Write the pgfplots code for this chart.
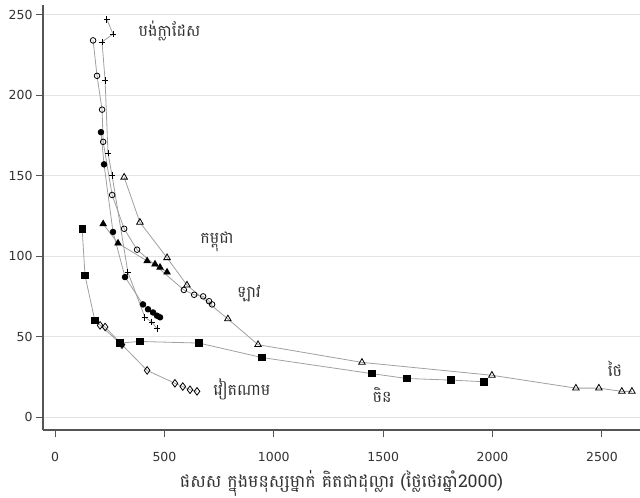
\documentclass[border=0pt]{standalone}
\usepackage{fontspec}
\setmainfont{DejaVu Sans}
\newfontfamily\khmer[Script=Khmer]{Battambang}
\usepackage{pgfplots}
\pgfplotsset{compat=1.18}
\definecolor{linegray}{HTML}{A0A0A0}
\definecolor{axisgray}{HTML}{555555}
\definecolor{gridgray}{HTML}{E3E3E3}
\definecolor{ticktext}{HTML}{333333}
\begin{document}
\begin{tikzpicture}
\begin{axis}[
  scale only axis, width=597bp, height=425bp,
  xmin=-55, xmax=2674, ymin=-8, ymax=256,
  axis x line*=bottom, axis y line*=left,
  axis line style={axisgray, line width=1.3bp, -},
  xtick={0,500,...,2500}, ytick={0,50,...,250},
  tick align=outside, major tick length=7bp,
  tick style={axisgray, line width=1bp},
  ymajorgrids, grid style={gridgray, line width=1bp},
  tick label style={font=\fontsize{12.5}{14}\selectfont, text=ticktext},
  xticklabel style={yshift=-12bp},
  /pgf/number format/assume math mode=true,
  /pgf/number format/1000 sep={},
  xlabel={\khmer ផសស ក្នុងមនុស្សម្នាក់ គិតជាដុល្លារ (ថ្លៃថេរឆ្នាំ2000)},
  xlabel style={font=\fontsize{17.5}{20}\selectfont, text=black!80,
    at={(rel axis cs:0.5,0)}, anchor=center, yshift=-53bp},
  every axis plot/.append style={linegray, line width=0.8bp, mark size=2.8bp},
  clip=false,
]
\coordinate (o) at (rel axis cs:0,0);
% Bangladesh
\addplot[mark=+, mark options={black, solid, line width=0.9bp, scale=1.15}] coordinates {
 (237,247) (265,238) (215,233) (229,209) (242,164) (261,150) (333,90)
 (411,62) (443,59) (466,55)};
% Laos
\addplot[mark=o, mark options={black, solid, fill=white, line width=0.8bp}] coordinates {
 (174,234) (192,212) (215,191) (220,171) (261,138) (316,117) (375,104)
 (589,79) (636,76) (677,75) (704,72) (718,70)};
% unlabeled, filled circles
\addplot[mark=*, mark options={black, solid}] coordinates {
 (210,177) (224,157) (265,115) (320,87) (402,70) (425,67) (448,65) (466,63) (480,62)};
% Cambodia
\addplot[mark=triangle*, mark options={black, solid, scale=1.3}] coordinates {
 (220,120) (288,108) (421,97) (457,95) (480,93) (512,90)};
% Thailand
\addplot[mark=triangle, mark options={black, solid, fill=white, line width=0.8bp, scale=1.35}] coordinates {
 (316,149) (388,121) (512,99) (603,82) (790,61) (928,45) (1403,34)
 (1997,26) (2381,18) (2486,18) (2591,16) (2637,16)};
% China
\addplot[mark=square*, mark options={black, solid, scale=1.15}] coordinates {
 (124,117) (137,88) (182,60) (297,46) (388,47) (658,46) (946,37)
 (1449,27) (1608,24) (1809,23) (1960,22)};
% Vietnam
\addplot[mark=diamond, mark options={black, solid, fill=white, line width=0.8bp, scale=1.35}] coordinates {
 (206,57) (229,56) (306,45) (421,29) (548,21) (584,19) (617,17) (649,16)};

\begin{scope}[every node/.style={font=\khmer\fontsize{16}{18}\selectfont, text=black!80}]
\node[anchor=west] at (axis cs:366,240) {បង់ក្លាដែស};
\node at (axis cs:740,109) {កម្ពុជា};
\node at (axis cs:887,77) {ឡាវ};
\node at (axis cs:2560,30) {ថៃ};
\node at (axis cs:1495,14) {ចិន};
\node at (axis cs:854,17) {វៀតណាម};
\end{scope}
\end{axis}
\pgfresetboundingbox
\path (o) ++(-43bp,-68bp) rectangle ++(640bp,498bp);
\end{tikzpicture}
\end{document}
